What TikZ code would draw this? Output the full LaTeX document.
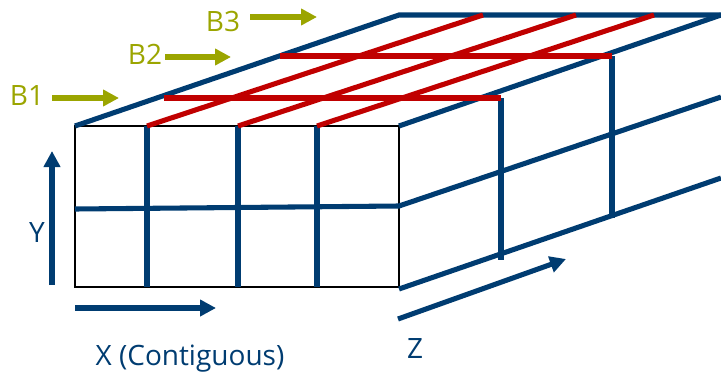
\documentclass[tikz,border=0pt]{standalone}
\usepackage{fontspec}
\setmainfont{Open Sans}
\usepackage{xcolor}
\definecolor{cBlue}{HTML}{003C71}
\definecolor{cRed}{HTML}{C00000}
\definecolor{cOlive}{HTML}{9BA500}
\usetikzlibrary{positioning,arrows.meta}
\tikzset{
  edge-blue/.style={line width=3.8pt,draw=cBlue},
  edge-red/.style={line width=3.8pt,draw=cRed},
  edge-face/.style={line width=0.9pt,draw=black},
  arrow-axis/.style={-{Triangle[length=12pt,width=12pt]},line width=3.8pt,draw=cBlue},
  arrow-band/.style={-{Triangle[length=12pt,width=12pt]},line width=3.8pt,draw=cOlive},
  label-axis/.style={text=cBlue,font=\fontsize{21}{24}\selectfont,inner sep=0pt},
  label-band/.style={text=cOlive,font=\fontsize{21}{24}\selectfont,inner sep=0pt},
}
\begin{document}
\begin{tikzpicture}[x=0.75pt,y=-0.75pt]
  \useasboundingbox (0,0) rectangle (721,372);
  % front face
  \coordinate (ftl) at (75,126);
  \coordinate (ftr) at (399,126);
  \coordinate (fbl) at (75,287);
  \coordinate (fbr) at (399,287);
  \coordinate (fml) at (75,209);
  \coordinate (fmr) at (399,206);
  % far ends of the depth edges
  \coordinate (btl) at (399,15);
  \coordinate (btr) at (721,15);
  \coordinate (bmr) at (721,97);
  \coordinate (bbr) at (721,178);
  \coordinate (bfl) at (399,289);
  % column tops and feet
  \coordinate (c1t) at (147,126);
  \coordinate (c1b) at (147,287);
  \coordinate (c2t) at (238,126);
  \coordinate (c2b) at (238,287);
  \coordinate (c3t) at (317,126);
  \coordinate (c3b) at (317,287);
  \coordinate (c1e) at (483,15);
  \coordinate (c2e) at (576,15);
  \coordinate (c3e) at (654,15);
  % rows across the top
  \coordinate (r1l) at (164,98);
  \coordinate (r1r) at (501,98);
  \coordinate (r1b) at (501,260);
  \coordinate (r2l) at (280,56);
  \coordinate (r2r) at (612,56);
  \coordinate (r2b) at (612,218);
  % axis arrows
  \coordinate (ys) at (52,285);
  \coordinate (ye) at (52,151);
  \coordinate (xs) at (75,308);
  \coordinate (xe) at (216,308);
  \coordinate (zs) at (398,319);
  \coordinate (ze) at (566,259);
  \coordinate (b1s) at (52,98);
  \coordinate (b1e) at (119,98);
  \coordinate (b2s) at (165,57);
  \coordinate (b2e) at (231,57);
  \coordinate (b3s) at (250,17);
  \coordinate (b3e) at (317,17);

  \draw[edge-face] (ftl) rectangle (fbr);
  \draw[edge-blue] (ftl) -- (btl) -- (btr);
  \draw[edge-blue] (ftr) -- (btr);
  \draw[edge-blue] (fml) -- (fmr) -- (bmr);
  \draw[edge-blue] (bfl) -- (bbr);
  \draw[edge-blue] (c1t) -- (c1b);
  \draw[edge-blue] (c2t) -- (c2b);
  \draw[edge-blue] (c3t) -- (c3b);
  \draw[edge-blue] (r1r) -- (r1b);
  \draw[edge-blue] (r2r) -- (r2b);
  \draw[edge-red] (c1t) -- (c1e);
  \draw[edge-red] (c2t) -- (c2e);
  \draw[edge-red] (c3t) -- (c3e);
  \draw[edge-red] (r1l) -- (r1r);
  \draw[edge-red] (r2l) -- (r2r);

  \draw[arrow-axis] (ys) -- (ye);
  \draw[arrow-axis] (xs) -- (xe);
  \draw[arrow-axis] (zs) -- (ze);
  \draw[arrow-band] (b1s) -- (b1e);
  \draw[arrow-band] (b2s) -- (b2e);
  \draw[arrow-band] (b3s) -- (b3e);

  \node[label-band] (b1) at (27,96) {B1};
  \node[label-band] (b2) at (145,54) {B2};
  \node[label-band] (b3) at (223,21) {B3};
  \node[label-axis] (y) at (37,232) {Y};
  \node[label-axis] (x) at (190,359) {X (Contiguous)};
  \node[label-axis] (z) at (415,348) {Z};
\end{tikzpicture}
\end{document}
